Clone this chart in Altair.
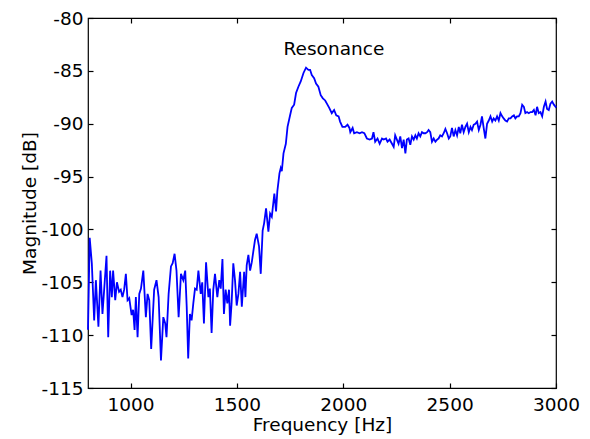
import altair as alt
import pandas as pd

# --- data (frequency in Hz, magnitude in dB) ---
freq_low = [800, 808, 818, 829, 837, 849, 859, 868, 876, 887, 895, 904, 912, 918, 928, 936, 946, 954,
            962, 970, 978, 986, 994, 1005, 1012, 1019, 1025, 1033, 1041, 1049, 1060, 1072, 1080, 1088,
            1097, 1111, 1122, 1132, 1143, 1154, 1163, 1169, 1179, 1190, 1198, 1207, 1216, 1226, 1237,
            1248, 1257]
mag_low = [-109.5, -100.8, -103.2, -108.6, -104.8, -109.2, -103.9, -108.0, -105.7, -102.5, -110.2,
           -103.9, -106.4, -103.9, -106.7, -105.0, -105.9, -105.7, -106.4, -105.7, -104.2, -106.7,
           -106.5, -108.1, -107.6, -109.5, -106.4, -110.2, -106.1, -105.6, -103.9, -108.3, -106.1,
           -106.7, -111.3, -105.7, -104.8, -106.4, -112.4, -108.3, -108.9, -110.2, -106.1, -103.5,
           -103.2, -102.3, -103.9, -108.3, -104.2, -104.8, -103.9]

freq_mid = [1264, 1271, 1279, 1287, 1295, 1303, 1311, 1319, 1330, 1337, 1345, 1355, 1366, 1373, 1381,
            1389, 1397, 1408, 1417, 1424, 1432, 1439, 1447, 1455, 1463, 1468, 1475, 1483, 1491, 1499,
            1507, 1515, 1523, 1534, 1540, 1546, 1554, 1562, 1570, 1577, 1585, 1593, 1604, 1612, 1621]
mag_mid = [-107.3, -112.2, -108.0, -108.6, -107.0, -105.6, -105.7, -103.9, -106.1, -105.0, -108.9,
           -103.1, -106.4, -105.6, -109.8, -105.7, -104.2, -106.4, -104.8, -105.6, -102.8, -108.0,
           -105.7, -107.0, -105.7, -109.1, -107.0, -103.2, -104.8, -107.2, -106.1, -104.0, -107.3,
           -104.0, -106.4, -103.4, -102.4, -103.9, -103.1, -102.1, -101.0, -100.4, -101.6, -104.2,
           -100.1]

freq_peak = [1628, 1637, 1648, 1656, 1664, 1676, 1684, 1690, 1700, 1706, 1711, 1719, 1730, 1738, 1750,
             1758, 1769, 1778, 1789, 1800, 1813, 1825, 1836, 1844, 1852, 1863, 1872, 1883, 1894, 1904,
             1915, 1923, 1934, 1946, 1957, 1967, 1978, 1985, 1996, 2009, 2020, 2029]
mag_peak = [-99.4, -98.0, -100.2, -98.5, -98.8, -96.6, -98.3, -96.4, -94.7, -94.2, -94.5, -92.8, -91.9,
            -90.3, -89.2, -88.5, -88.2, -87.1, -86.5, -86.0, -85.2, -84.7, -84.9, -84.9, -85.4, -85.7,
            -86.2, -86.5, -87.3, -87.6, -87.8, -88.1, -88.5, -89.0, -88.7, -89.2, -89.3, -89.8, -90.3,
            -90.3, -90.1, -90.4]

freq_dip = [2033, 2044, 2051, 2064, 2077, 2088, 2099, 2111, 2124, 2135, 2142, 2150, 2161, 2171, 2182,
            2190, 2201, 2208, 2218, 2229, 2237, 2244, 2252, 2260, 2268, 2276, 2284, 2292, 2299, 2307,
            2315, 2323, 2331, 2339, 2346, 2354, 2362, 2370, 2378, 2386, 2394, 2401, 2409, 2417, 2425,
            2433, 2441, 2448, 2456, 2464, 2472, 2480, 2488, 2496]
mag_dip = [-90.8, -90.4, -90.9, -90.8, -90.9, -90.8, -90.9, -91.4, -91.5, -91.4, -90.8, -91.7, -91.4,
           -91.9, -91.4, -91.5, -91.4, -91.7, -91.5, -91.9, -92.2, -91.1, -91.5, -91.9, -91.2, -92.3,
           -91.5, -92.8, -91.5, -91.4, -92.0, -91.2, -91.5, -91.1, -91.4, -90.9, -91.2, -90.8, -90.9,
           -90.9, -90.8, -90.6, -90.8, -91.7, -91.4, -91.7, -91.5, -91.4, -91.1, -91.2, -90.9, -90.5,
           -90.9, -91.4]

freq_high = [2503, 2511, 2519, 2527, 2535, 2543, 2550, 2558, 2566, 2574, 2582, 2590, 2598, 2605, 2613,
             2621, 2629, 2637, 2645, 2652, 2660, 2668, 2676, 2684, 2692, 2700, 2707, 2715, 2723, 2731,
             2739, 2747, 2754, 2762, 2770, 2778, 2786, 2794, 2802, 2809, 2817, 2825, 2833, 2841, 2849,
             2856, 2864, 2872, 2880, 2888, 2896, 2904, 2911, 2919, 2927, 2935, 2943, 2951, 2958, 2966,
             2974, 2982, 2990, 2998, 3000]
mag_high = [-91.2, -90.4, -91.2, -90.6, -91.1, -90.3, -90.9, -90.1, -90.8, -90.3, -90.0, -90.8, -90.3,
            -90.6, -90.1, -90.0, -89.8, -90.6, -90.1, -89.3, -90.4, -91.4, -90.0, -89.7, -89.3, -89.8,
            -89.5, -89.7, -89.3, -89.7, -89.0, -89.3, -89.5, -89.7, -89.8, -89.5, -89.5, -89.3, -89.2,
            -89.5, -89.3, -89.3, -89.0, -88.2, -88.4, -89.0, -88.9, -89.0, -88.9, -88.9, -88.7, -89.2,
            -88.4, -89.0, -88.9, -89.3, -88.4, -87.9, -88.6, -88.7, -88.1, -87.9, -88.2, -88.4, -88.3]

x_ticks = [1000, 1500, 2000, 2500, 3000]
y_ticks = [-115, -110, -105, -100, -95, -90, -85, -80]
x_domain = [800, 3000]
y_domain = [-115, -80]

label_text = ["Resonance"]
label_freq = [1956]
label_mag = [-83.5]

freqs = freq_low + freq_mid + freq_peak + freq_dip + freq_high
mags = mag_low + mag_mid + mag_peak + mag_dip + mag_high
assert len(freqs) == len(mags)

df = pd.DataFrame({"f": freqs, "m": mags})
lab = pd.DataFrame({"t": label_text, "f": label_freq, "m": label_mag})

FONT = "DejaVu Sans"
FS = 18.5

xs = alt.Scale(domain=x_domain, nice=False, zero=False)
ys = alt.Scale(domain=y_domain, nice=False, zero=False)

line = alt.Chart(df).mark_line(color="#0000ff", strokeWidth=1.8).encode(
    x=alt.X("f:Q", scale=xs,
            axis=alt.Axis(values=x_ticks, title="Frequency [Hz]", offset=-5, tickSize=5,
                          labelPadding=7, titlePadding=2, labelFlush=False, grid=False,
                          domain=False, labelExpr="'' + datum.value")),
    y=alt.Y("m:Q", scale=ys,
            axis=alt.Axis(values=y_ticks, title="Magnitude [dB]", offset=-5, tickSize=5,
                          labelPadding=5, titlePadding=2, labelFlush=False, grid=False,
                          domain=False, labelExpr="'' + datum.value")),
)

text = alt.Chart(lab).mark_text(font=FONT, fontSize=FS, color="black", baseline="alphabetic",
                                align="center").encode(
    x=alt.X("f:Q", scale=xs,
            axis=alt.Axis(values=x_ticks, orient="top", labels=False, title="", offset=-5,
                          tickSize=5, grid=False, domain=False)),
    y=alt.Y("m:Q", scale=ys,
            axis=alt.Axis(values=y_ticks, orient="right", labels=False, title="", offset=-5,
                          tickSize=5, grid=False, domain=False)),
    text="t:N",
)

chart = alt.layer(line, text).resolve_axis(x="independent", y="independent").properties(
    width=468, height=370,
    autosize=alt.AutoSizeParams(type="none"),
    padding={"left": 80, "top": 10, "right": 26, "bottom": 51},
    background="white",
).configure_view(stroke="black", strokeWidth=1.2).configure_axis(
    labelFont=FONT, labelFontSize=FS, labelColor="black",
    titleFont=FONT, titleFontSize=FS, titleFontWeight="normal", titleColor="black",
    tickColor="black", tickWidth=1.2,
)

chart.save("out.html", embed_options={"renderer": "svg", "actions": False})
